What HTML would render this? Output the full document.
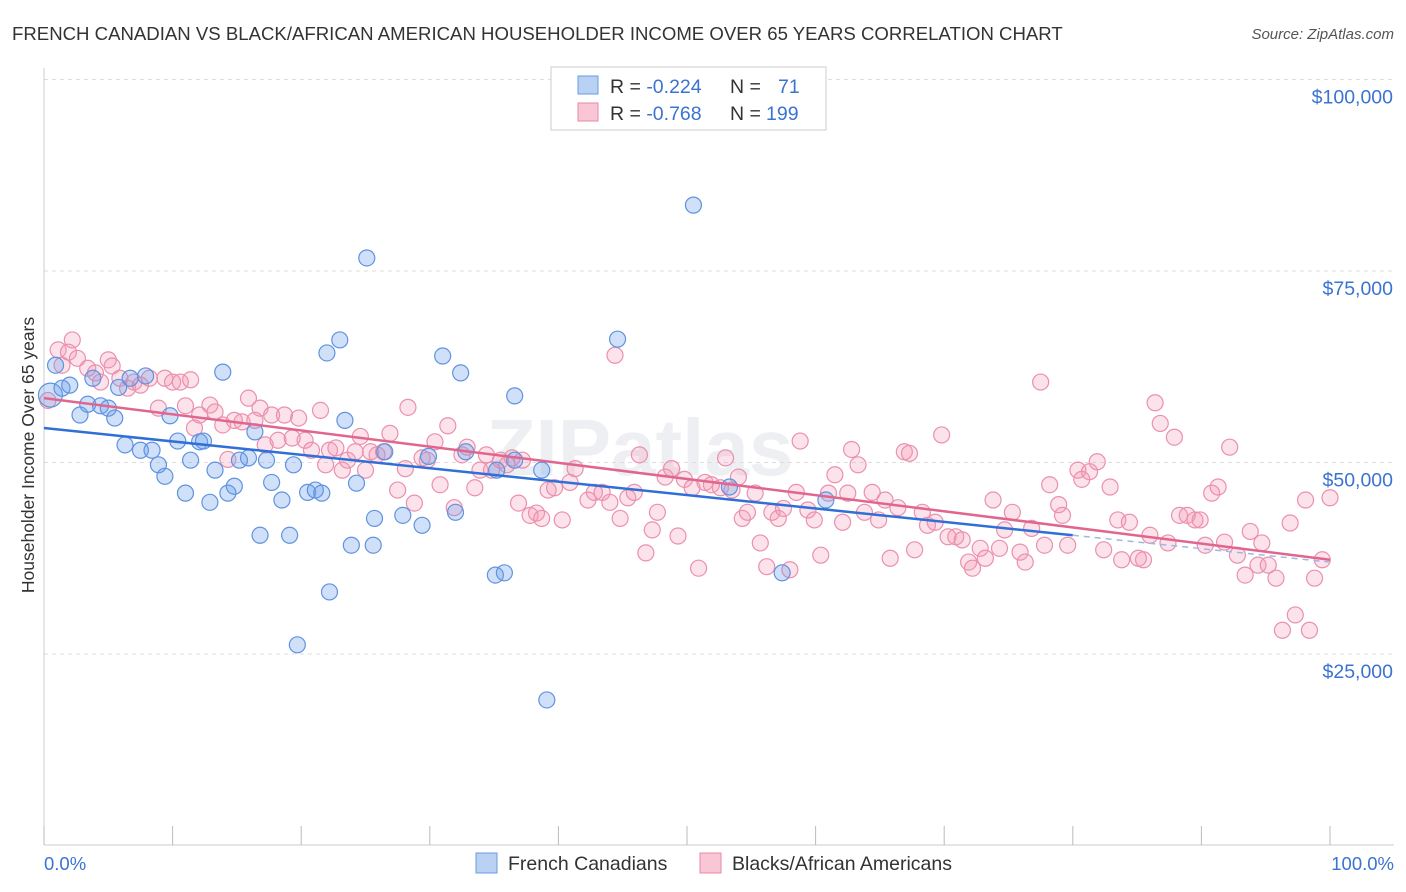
<!DOCTYPE html>
<html><head><meta charset="utf-8"><style>
body{margin:0;background:#fff;font-family:"Liberation Sans",sans-serif;}
svg{display:block}
</style></head><body>
<svg id="chart" width="1406" height="892">
<text x="12" y="40" font-size="18.6" fill="#333">FRENCH CANADIAN VS BLACK/AFRICAN AMERICAN HOUSEHOLDER INCOME OVER 65 YEARS CORRELATION CHART</text>
<text x="1394" y="39" font-size="15" fill="#555" font-style="italic" text-anchor="end">Source: ZipAtlas.com</text>
<text x="640" y="475" font-size="80" fill="#dde1e8" opacity="0.5" text-anchor="middle" font-weight="bold">ZIPatlas</text>
<g id="grid"></g><g id="axes"></g><g id="pts"></g><g id="lines"></g>
<text transform="translate(34,455) rotate(-90)" font-size="17.5" fill="#333" text-anchor="middle">Householder Income Over 65 years</text>
<text x="44" y="870" font-size="18.5" fill="#3b73d1">0.0%</text>
<text x="1394" y="870" font-size="18.5" fill="#3b73d1" text-anchor="end">100.0%</text>
<g>
<rect x="551" y="67" width="275" height="63" fill="#fff" stroke="#ccc"/>
<rect x="578" y="76" width="20" height="18" fill="#b9d1f3" stroke="#6a9be0"/>
<rect x="578" y="103" width="20" height="18" fill="#f8c6d5" stroke="#e88aa8"/>
<text x="610" y="93" font-size="19.5" fill="#333">R = <tspan fill="#3b73d1">-0.224</tspan><tspan x="730">N =</tspan><tspan x="778" fill="#3b73d1">71</tspan></text>
<text x="610" y="120" font-size="19.5" fill="#333">R = <tspan fill="#3b73d1">-0.768</tspan><tspan x="730">N =</tspan><tspan x="766" fill="#3b73d1">199</tspan></text>
</g>
<g>
<rect x="476" y="853" width="21" height="20" fill="#b9d1f3" stroke="#6a9be0"/>
<text x="508" y="870" font-size="19.5" fill="#333">French Canadians</text>
<rect x="700" y="853" width="21" height="20" fill="#f8c6d5" stroke="#e88aa8"/>
<text x="732" y="870" font-size="19.5" fill="#333">Blacks/African Americans</text>
</g>
</svg>
<script>
const yTicks=[25000,50000,75000,100000];
const yTickLabels=["$25,000","$50,000","$75,000","$100,000"];
const blueX=[0.5,0.9,1.4,2.0,2.8,3.4,3.8,4.4,5.0,5.5,5.8,6.7,7.9,6.3,7.5,8.4,8.9,9.4,9.8,10.4,11.0,11.4,12.1,12.4,12.9,13.3,13.9,14.3,14.8,15.2,15.9,16.4,16.8,17.3,17.7,18.5,19.1,19.4,19.7,20.5,21.1,21.6,22.0,22.2,23.0,23.4,23.9,24.3,25.1,25.6,25.7,26.5,27.9,29.4,29.9,31.0,32.0,32.4,32.8,35.1,35.2,35.8,36.6,36.6,38.7,39.1,44.6,50.5,53.3,57.4,60.8];
const blueY=[58.8,62.7,59.7,60.1,56.2,57.6,61.0,57.4,57.1,55.8,59.8,61.0,61.3,52.3,51.6,51.6,49.7,48.2,56.1,52.8,46.0,50.3,52.7,52.8,44.8,49.0,61.8,46.0,46.9,50.3,50.6,54.0,40.5,50.3,47.4,45.1,40.5,49.7,26.2,46.1,46.4,46.0,64.3,33.1,66.0,55.5,39.2,47.3,76.7,39.2,42.7,51.4,43.1,41.8,50.8,63.9,43.5,61.7,51.4,35.3,49.0,35.6,58.7,50.3,49.0,19.0,66.1,83.6,46.8,35.6,45.1];
const pinkX=[0.3,1.1,1.4,2.2,1.9,2.6,3.4,4.0,4.4,5.0,5.3,5.9,6.5,7.0,7.5,8.2,8.9,9.4,10.0,10.6,11.0,11.4,11.7,12.1,12.9,13.3,13.9,14.3,14.8,15.4,15.9,16.4,16.8,17.2,17.7,18.2,18.7,19.3,19.8,20.3,20.8,21.5,21.9,22.2,22.7,23.2,23.6,24.2,24.6,25.0,25.4,25.9,26.4,26.9,27.5,28.1,28.3,28.8,29.4,29.8,30.4,30.8,31.4,31.9,32.5,32.9,33.5,33.9,34.4,34.8,35.5,36.0,36.4,36.9,37.2,37.8,38.3,38.7,39.2,39.7,40.3,40.9,41.3,42.3,42.8,43.4,44.0,44.4,44.8,45.4,45.9,46.3,46.8,47.3,47.7,48.3,48.8,49.3,49.8,50.4,50.9,51.4,51.9,52.6,53.0,53.5,54.0,54.3,54.7,55.3,55.7,56.2,56.6,57.1,57.5,58.0,58.5,58.8,59.4,59.9,60.4,61.0,61.5,62.1,62.5,62.8,63.3,63.8,64.4,64.9,65.4,65.8,66.4,66.9,67.3,67.7,68.3,68.7,69.3,69.8,70.3,70.9,71.4,71.9,72.2,72.8,73.2,73.8,74.3,74.7,75.3,75.9,76.3,76.8,77.5,77.8,78.2,78.9,79.2,79.6,80.4,80.7,81.3,81.9,82.4,82.9,83.5,83.8,84.4,85.1,85.5,86.0,86.4,86.8,87.4,87.9,88.3,88.9,89.5,89.9,90.3,90.8,91.3,91.8,92.2,92.8,93.4,93.8,94.4,94.7,95.2,95.8,96.3,96.9,97.3,98.1,98.4,98.8,99.4,100];
const pinkY=[58.1,64.7,62.7,66.0,64.4,63.6,62.3,61.7,60.5,63.4,62.6,61.0,59.7,60.5,60.1,61.0,57.1,61.0,60.5,60.5,57.4,60.8,54.5,56.2,57.5,56.6,54.9,50.4,55.5,55.3,58.4,55.5,57.1,52.3,56.2,52.9,56.2,53.2,55.8,52.9,51.6,56.8,49.7,51.6,51.9,49.0,50.3,51.4,53.4,49.0,51.4,51.0,51.4,53.8,46.4,49.2,57.2,44.7,50.6,50.3,52.7,47.1,54.8,44.1,51.0,52.0,46.7,49.0,51.0,49.0,50.3,49.7,50.6,44.7,50.3,43.1,43.4,42.7,46.4,46.7,42.5,47.4,49.2,45.1,46.1,46.1,44.8,64.0,42.7,45.4,46.1,51.0,38.2,41.2,43.5,48.1,49.2,40.4,47.8,46.7,36.2,47.4,47.1,46.7,50.6,46.4,48.1,42.7,43.5,46.0,39.5,36.4,43.5,42.7,44.0,36.0,46.1,52.8,43.8,42.5,37.9,46.0,48.4,42.2,46.0,51.7,49.7,43.5,46.1,42.5,45.1,37.5,44.1,51.4,51.2,38.6,43.5,41.8,42.2,53.6,40.3,40.3,39.9,37.0,36.2,38.8,37.5,45.1,38.8,41.2,43.5,38.3,37.0,41.4,60.5,39.2,47.1,44.5,43.1,39.2,49.0,47.8,48.8,50.1,38.6,46.8,42.5,37.3,42.2,37.5,37.3,40.5,57.8,55.1,39.5,53.3,43.1,43.1,42.5,42.5,39.2,46.0,46.8,39.6,52.0,37.9,35.3,41.0,36.6,39.5,36.6,34.9,28.1,42.1,30.1,45.1,28.1,34.9,37.3,45.4];
const blueTrend=[54.5,37.0];
const pinkTrend=[58.4,37.3];
const blueTrendEnd=80;

const NS="http://www.w3.org/2000/svg";
const X=p=>44+p*12.86;
const Y=v=>654-(v-25000)/25000*191.5;
function mk(tag,attrs,parent){const e=document.createElementNS(NS,tag);for(const k in attrs)e.setAttribute(k,attrs[k]);document.getElementById(parent).appendChild(e);return e;}
yTicks.forEach((t,i)=>{
  const g=mk('line',{x1:44,x2:1394,y1:Y(t),y2:Y(t),stroke:'#ddd','stroke-dasharray':'4,4'},'grid');
  
  
  const l=mk('text',{x:1393,y:Y(t)+24,'font-size':19.5,fill:'#3b73d1','text-anchor':'end'},'grid');
  l.textContent=yTickLabels[i];
  
  
});
const ax=mk('line',{x1:44,x2:1394,y1:845,y2:845,stroke:'#ccc'},'axes');


const ay=mk('line',{x1:44,x2:44,y1:68,y2:845,stroke:'#ccc'},'axes');


for(let i=0;i<=10;i++){const t=mk('line',{x1:X(i*10),x2:X(i*10),y1:826,y2:845,stroke:'#bbb'},'axes');
  
  }
pinkX.forEach((x,i)=>{const c=mk('circle',{cx:X(x),cy:Y(pinkY[i]*1000),r:8,fill:'rgba(244,150,180,0.28)',stroke:'#eb90ad','stroke-width':1.2},'pts');
  
  });
blueX.forEach((x,i)=>{const c=mk('circle',{cx:X(x),cy:Y(blueY[i]*1000),r:i==0?12:8,fill:'rgba(110,160,235,0.32)',stroke:'#5f93df','stroke-width':1.2},'pts');
  
  });
const bv=p=>(blueTrend[0]+(blueTrend[1]-blueTrend[0])*p/100)*1000;
const bl=mk('line',{x1:X(0),y1:Y(bv(0)),x2:X(blueTrendEnd),y2:Y(bv(blueTrendEnd)),stroke:'#2f6fd6','stroke-width':2.5},'lines');


const bd=mk('line',{x1:X(blueTrendEnd),y1:Y(bv(blueTrendEnd)),x2:X(100),y2:Y(bv(100)),stroke:'#9bb8e6','stroke-width':1.5,'stroke-dasharray':'6,5'},'lines');


const pl=mk('line',{x1:X(0),y1:Y(pinkTrend[0]*1000),x2:X(100),y2:Y(pinkTrend[1]*1000),stroke:'#e0668e','stroke-width':2.5},'lines');


</script>
</body></html>
